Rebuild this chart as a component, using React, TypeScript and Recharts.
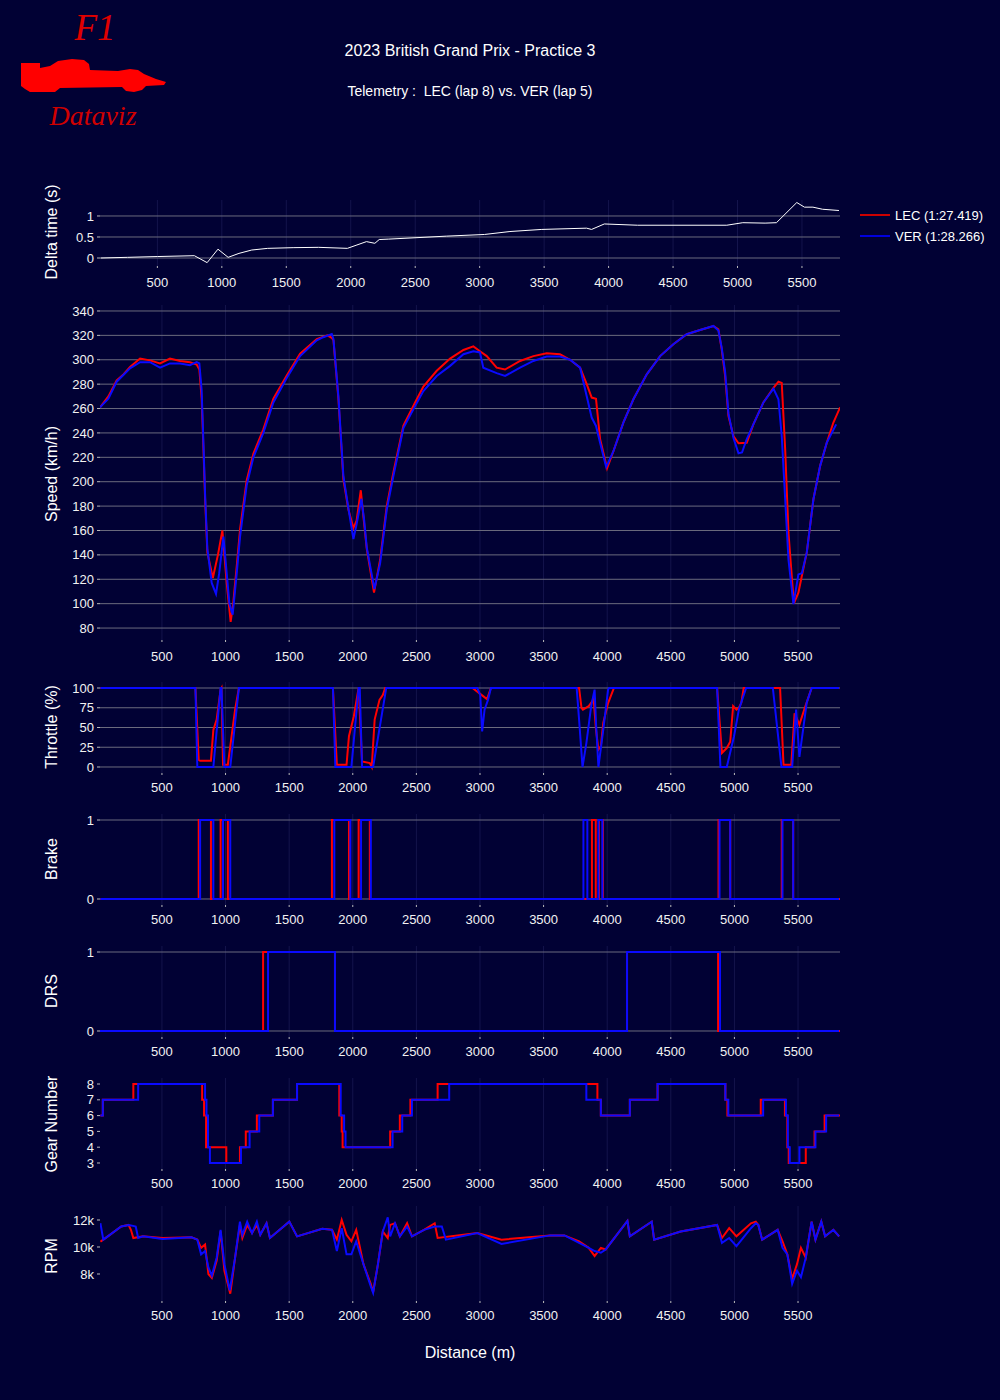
import React from 'react';
import { LineChart, Line, XAxis, YAxis, CartesianGrid } from 'recharts';

const BG = '#010134';
const LEC_COLOR = '#ff0000';
const VER_COLOR = '#0a0aff';
const FONT = '"Liberation Sans", Arial, sans-serif';
const LOGO_FONT = '"Liberation Serif", "DejaVu Serif", serif';

const distanceTicks = [500, 1000, 1500, 2000, 2500, 3000, 3500, 4000, 4500, 5000, 5500];

// [distance (m), value]
const deltaTime: [number, number][] = [
  [60, 0], [268, 0.016], [500, 0.035], [787, 0.055], [886, -0.11], [970, 0.21], [1049, 0.016],
  [1133, 0.11], [1232, 0.19], [1356, 0.23], [1553, 0.246], [1751, 0.254], [1974, 0.23], [2048, 0.31],
  [2122, 0.39], [2187, 0.35], [2221, 0.44], [2295, 0.45], [2741, 0.52], [3037, 0.56], [3235, 0.63],
  [3482, 0.68], [3829, 0.71], [3868, 0.68], [3967, 0.81], [4224, 0.78], [4917, 0.78], [5041, 0.84],
  [5214, 0.83], [5302, 0.84], [5460, 1.32], [5519, 1.21], [5585, 1.21], [5659, 1.16], [5787, 1.13],
];

const lecSpeed: [number, number][] = [
  [13, 261], [79, 270], [144, 283], [197, 288], [249, 294], [328, 301], [406, 299.5], [485, 297],
  [563, 301], [642, 299], [720, 298], [773, 296], [794, 292], [812, 268], [826, 227], [839, 186],
  [857, 142], [900, 121], [940, 140], [975, 160], [1009, 117], [1040, 85], [1060, 100], [1088, 131],
  [1114, 161], [1166, 201], [1219, 223], [1297, 243], [1376, 268], [1481, 287], [1586, 305],
  [1717, 317], [1769, 319], [1800, 320], [1835, 318], [1848, 316], [1887, 268], [1926, 202],
  [1966, 177], [2005, 162], [2030, 168], [2063, 193], [2085, 170], [2110, 145], [2167, 109],
  [2215, 136], [2267, 180], [2320, 208], [2398, 246], [2490, 265], [2555, 278], [2660, 291],
  [2765, 301], [2870, 308], [2948, 311], [3000, 307], [3053, 303], [3131, 293.5], [3197, 292],
  [3315, 299], [3420, 303], [3524, 305.3], [3629, 304.5], [3708, 300], [3787, 293.5], [3839, 280],
  [3878, 269], [3912, 268], [3944, 235], [3999, 211], [4049, 225], [4127, 248.5], [4206, 267.6],
  [4311, 288], [4416, 303], [4520, 312.7], [4625, 320.9], [4730, 324.4], [4835, 327.7], [4874, 325],
  [4900, 308.6], [4927, 286.7], [4953, 254], [4992, 237.5], [5032, 231.5], [5097, 232], [5149, 247],
  [5228, 265], [5307, 277], [5346, 282], [5372, 281], [5399, 226.6], [5425, 158], [5467, 100],
  [5503, 109], [5530, 122.7], [5569, 142], [5621, 185.6], [5674, 213], [5726, 232], [5778, 248.5],
  [5831, 261],
];

const verSpeed: [number, number][] = [
  [13, 261], [79, 268], [144, 282], [197, 287.5], [249, 293], [328, 298], [406, 298], [485, 293.5],
  [563, 297], [642, 297], [720, 295.5], [773, 298], [794, 297], [812, 275], [826, 232], [839, 190],
  [857, 145], [891, 117], [925, 108], [950, 125], [983, 155], [1009, 125], [1030, 100], [1056, 91],
  [1088, 125], [1114, 155], [1166, 197], [1219, 220], [1297, 240], [1376, 265], [1481, 285],
  [1586, 303], [1717, 316], [1769, 318.5], [1835, 321], [1848, 317], [1887, 270], [1926, 205],
  [1966, 178], [2005, 153], [2030, 165], [2068, 186], [2090, 168], [2110, 146], [2170, 112],
  [2215, 133], [2267, 177], [2320, 205], [2398, 244], [2490, 262], [2555, 274.4], [2660, 286.7],
  [2765, 295], [2870, 304.5], [2948, 307], [3000, 306], [3026, 293.5], [3131, 289], [3197, 286.7],
  [3315, 293.5], [3420, 299], [3524, 302.6], [3629, 302.6], [3708, 300], [3787, 293.5], [3839, 270],
  [3878, 252.6], [3912, 245.7], [3944, 232], [3992, 212], [4049, 225], [4127, 248.5], [4206, 267.6],
  [4311, 288], [4416, 303], [4520, 312.7], [4625, 320.9], [4730, 324.4], [4835, 327.7], [4874, 324],
  [4900, 310], [4927, 290], [4953, 256], [4992, 236], [5032, 223.3], [5060, 224], [5097, 235],
  [5149, 247], [5228, 265], [5307, 276.3], [5346, 267.6], [5372, 237.5], [5399, 185.6], [5425, 136],
  [5464, 99.6], [5503, 124], [5530, 125], [5569, 142], [5621, 185.6], [5674, 213], [5726, 232],
  [5800, 247],
];

const lecThrottle: [number, number][] = [
  [16, 100], [763, 100], [789, 9], [800, 8], [885, 8], [904, 47], [930, 60], [961, 98], [968, 100],
  [980, 3], [1018, 3], [1037, 26], [1075, 72.6], [1105, 100], [1844, 100], [1875, 3], [1951, 3],
  [1970, 39], [2008, 64], [2046, 100], [2073, 7], [2134, 5], [2149, 0], [2172, 60], [2210, 85],
  [2236, 91], [2255, 100], [2941, 100], [3009, 91.6], [3055, 86], [3086, 100], [3779, 100],
  [3798, 75], [3809, 72.6], [3855, 77], [3882, 83], [3893, 87], [3912, 47], [3931, 22], [3950, 26],
  [3969, 55.7], [4007, 81], [4053, 100], [4864, 100], [4902, 17.7], [4940, 24], [4967, 32],
  [4990, 77], [5016, 72.6], [5035, 75], [5054, 81], [5073, 100], [5359, 100], [5386, 3], [5447, 3],
  [5473, 68], [5511, 53.6], [5549, 72.6], [5607, 100], [5823, 100],
];

const verThrottle: [number, number][] = [
  [16, 100], [763, 100], [778, 0], [904, 0], [961, 100], [968, 100], [991, 0], [1037, 0],
  [1105, 100], [1844, 100], [1863, 0], [1989, 0], [2046, 100], [2055, 100], [2073, 0], [2160, 0],
  [2263, 100], [2979, 100], [3002, 91], [3017, 45], [3036, 72.6], [3063, 85], [3086, 100],
  [3760, 100], [3779, 60], [3806, 0], [3836, 30], [3874, 77], [3901, 98], [3912, 55.7], [3931, 0],
  [3969, 47], [4007, 98], [4015, 100], [4864, 100], [4890, 0], [4940, 0], [4997, 39], [5035, 72.6],
  [5092, 100], [5302, 100], [5370, 0], [5454, 0], [5485, 72.6], [5511, 12.7], [5568, 81],
  [5607, 100], [5823, 100],
];

const lecBrake: [number, number][] = [
  [16, 0], [789, 1], [885, 0], [961, 1], [1018, 0], [1836, 1], [1970, 0], [2046, 1], [2134, 0],
  [3880, 1], [3910, 0], [3935, 1], [3966, 0], [4875, 1], [4967, 0], [5372, 1], [5462, 0], [5830, 0],
];

const verBrake: [number, number][] = [
  [16, 0], [800, 1], [904, 0], [980, 1], [1037, 0], [1855, 1], [1981, 0], [2065, 1], [2142, 0],
  [3813, 1], [3844, 0], [3931, 1], [3962, 0], [4883, 1], [4967, 0], [5378, 1], [5462, 0], [5823, 0],
];

const lecDrs: [number, number][] = [[10, 0], [1295, 1], [1860, 0], [4156, 1], [4872, 0], [5830, 0]];
const verDrs: [number, number][] = [[10, 0], [1334, 1], [1860, 0], [4156, 1], [4887, 0], [5823, 0]];

const lecGear: [number, number][] = [
  [16, 6], [35, 7], [275, 8], [816, 7], [831, 6], [847, 4], [1006, 3], [1113, 4], [1159, 5],
  [1246, 6], [1372, 7], [1562, 8], [1894, 6], [1913, 5], [1920, 4], [2294, 5], [2370, 6], [2453, 7],
  [2667, 8], [3923, 7], [3950, 6], [4178, 7], [4396, 8], [4929, 7], [4945, 6], [5207, 7], [5397, 6],
  [5416, 4], [5427, 3], [5561, 4], [5630, 5], [5709, 6], [5830, 6],
];

const verGear: [number, number][] = [
  [16, 6], [35, 7], [313, 8], [839, 7], [850, 6], [862, 4], [877, 3], [1121, 4], [1189, 5],
  [1265, 6], [1372, 7], [1562, 8], [1905, 6], [1932, 5], [1943, 4], [2313, 5], [2389, 6], [2465, 7],
  [2758, 8], [3836, 7], [3950, 6], [4178, 7], [4396, 8], [4929, 7], [4952, 6], [5226, 7], [5405, 6],
  [5420, 4], [5435, 3], [5511, 4], [5637, 5], [5721, 6], [5823, 6],
];

const lecRpm: [number, number][] = [
  [16, 10400], [39, 10545], [85, 10860], [180, 11515], [237, 11636], [256, 11273], [275, 10667],
  [351, 10788], [504, 10667], [732, 10715], [778, 10545], [808, 9939], [839, 10182], [865, 8000],
  [892, 7709], [930, 8970], [961, 11152], [991, 8242], [1037, 6545], [1075, 9212], [1113, 11636],
  [1132, 10667], [1170, 11636], [1208, 11030], [1246, 11636], [1273, 10909], [1322, 11758],
  [1349, 10667], [1501, 11879], [1562, 10788], [1760, 11345], [1837, 11273], [1875, 10545],
  [1913, 12000], [1951, 10909], [1989, 10424], [2027, 11273], [2084, 8727], [2141, 7273],
  [2160, 6667], [2198, 8727], [2236, 11152], [2275, 10667], [2294, 11636], [2332, 11758],
  [2370, 10788], [2427, 11758], [2465, 10788], [2560, 11273], [2644, 11758], [2667, 10667],
  [2979, 11030], [3169, 10545], [3550, 10860], [3664, 10860], [3779, 10424], [3855, 9939],
  [3901, 9333], [3950, 9939], [3988, 9818], [4159, 11927], [4178, 10788], [4350, 11879],
  [4369, 10545], [4578, 11152], [4864, 11636], [4902, 10667], [4959, 11394], [5016, 10788],
  [5130, 11758], [5168, 11879], [5188, 11636], [5218, 10545], [5340, 11273], [5378, 10424],
  [5416, 9455], [5454, 7636], [5492, 8727], [5523, 9939], [5561, 9212], [5607, 11879],
  [5637, 10545], [5683, 11879], [5713, 10788], [5778, 11273], [5823, 10788],
];

const verRpm: [number, number][] = [
  [16, 11758], [39, 10545], [85, 10860], [180, 11515], [237, 11636], [256, 11600], [294, 11515],
  [313, 10667], [351, 10788], [504, 10600], [732, 10715], [778, 10545], [808, 9455], [839, 9697],
  [865, 8485], [892, 7879], [930, 9212], [961, 11273], [991, 8727], [1033, 6788], [1075, 9212],
  [1113, 11879], [1132, 10900], [1170, 11879], [1208, 11030], [1246, 11879], [1273, 10909],
  [1322, 11758], [1349, 10667], [1501, 11879], [1562, 10788], [1760, 11345], [1837, 11273],
  [1875, 9697], [1913, 11394], [1951, 9455], [1989, 9455], [2027, 10424], [2084, 8727],
  [2141, 7100], [2160, 6600], [2198, 8727], [2236, 11152], [2275, 12200], [2294, 10788],
  [2332, 11758], [2370, 10788], [2427, 11515], [2465, 10788], [2560, 11273], [2644, 11515],
  [2700, 11515], [2732, 10545], [2979, 11030], [3169, 10230], [3550, 10860], [3664, 10860],
  [3779, 10303], [3855, 9939], [3901, 9697], [3950, 9576], [3988, 9818], [4159, 11927],
  [4178, 10788], [4350, 11879], [4369, 10545], [4578, 11152], [4864, 11636], [4902, 10303],
  [4959, 10667], [5016, 10061], [5130, 11394], [5168, 11758], [5188, 11636], [5218, 10545],
  [5340, 11273], [5378, 9939], [5416, 9455], [5454, 7273], [5492, 8242], [5523, 7758],
  [5561, 9212], [5607, 11879], [5637, 10545], [5683, 11879], [5713, 10788], [5778, 11273],
  [5823, 10788],
];

const toRows = (pts: [number, number][]) => pts.map(([d, v]) => ({ d, v }));

interface Series {
  data: [number, number][];
  color: string;
  width?: number;
  step?: boolean;
}

interface PanelProps {
  top: number;
  bottom: number;
  xDomain: [number, number];
  yDomain: [number, number];
  yTicks: number[];
  hGrid?: boolean;
  labelGap?: number;
  yFormat?: (v: number) => string;
  series: Series[];
}

function Panel({ top, bottom, xDomain, yDomain, yTicks, hGrid = true, labelGap = 8, yFormat, series }: PanelProps) {
  const plotH = bottom - top;
  const axisH = 40;
  return (
    <div style={{ position: 'absolute', left: 0, top }}>
      <LineChart width={1000} height={plotH + axisH} margin={{ top: 0, right: 160, bottom: 0, left: 40 }}>
        <CartesianGrid horizontal={false} vertical syncWithTicks stroke="#14144c" strokeWidth={1} />
        {hGrid && <CartesianGrid horizontal vertical={false} syncWithTicks stroke="#6b6b7e" strokeWidth={1} />}
        <XAxis
          type="number"
          dataKey="d"
          domain={xDomain}
          ticks={distanceTicks}
          interval={0}
          allowDataOverflow
          height={axisH}
          axisLine={false}
          tickLine={{ stroke: '#bbbbbb' }}
          tickSize={2}
          tickMargin={labelGap}
          tick={{ fill: '#f2f2f2', fontSize: 13, fontFamily: FONT }}
        />
        <YAxis
          type="number"
          domain={yDomain}
          ticks={yTicks}
          interval={0}
          allowDataOverflow
          width={60}
          axisLine={false}
          tickLine={{ stroke: '#bbbbbb' }}
          tickSize={3}
          tickMargin={3}
          tickFormatter={yFormat}
          tick={{ fill: '#f2f2f2', fontSize: 13, fontFamily: FONT }}
        />
        {series.map((s, i) => (
          <Line
            key={i}
            data={toRows(s.data)}
            dataKey="v"
            type={s.step ? 'stepAfter' : 'linear'}
            stroke={s.color}
            strokeWidth={s.width ?? 2}
            dot={false}
            isAnimationActive={false}
          />
        ))}
      </LineChart>
    </div>
  );
}

function AxisTitle({ x, y, text }: { x: number; y: number; text: string }) {
  return (
    <text x={x} y={y} transform={`rotate(-90, ${x}, ${y})`} textAnchor="middle" dominantBaseline="middle"
      fill="#ffffff" fontSize={16} fontFamily={FONT}>
      {text}
    </text>
  );
}

const X_DOMAIN: [number, number] = [13, 5830];

export default function App() {
  return (
    <div style={{ position: 'absolute', left: 0, top: 0, width: 1000, height: 1400, background: BG, overflow: 'hidden' }}>
      <svg width={1000} height={1400} style={{ position: 'absolute', left: 0, top: 0 }}>
        {/* logo */}
        <text x={95} y={40} textAnchor="middle" fill="#e00000" fontSize={37} fontStyle="italic" fontFamily={LOGO_FONT}>F1</text>
        <path
          d="M21,63 L40,63 L40,68 L50,66 L58,61 L72,59 L84,60 L89,64 L90,70 L118,71 L130,69 L138,70 L144,74 L156,79 L166,82 L164,85 L146,86 L142,90 L134,92 L126,91 L122,87 L60,88 L55,92 L30,92 L25,89 L21,86 Z"
          fill="#ff0000"
        />
        <text x={93} y={125} textAnchor="middle" fill="#d00000" fontSize={28} fontStyle="italic" fontFamily={LOGO_FONT}>Dataviz</text>

        {/* titles */}
        <text x={470} y={56} textAnchor="middle" fill="#ffffff" fontSize={16} fontFamily={FONT}>
          2023 British Grand Prix - Practice 3
        </text>
        <text x={470} y={96} textAnchor="middle" fill="#ffffff" fontSize={14} fontFamily={FONT} xmlSpace="preserve">
          Telemetry :  LEC (lap 8) vs. VER (lap 5)
        </text>

        {/* legend */}
        <line x1={860} x2={890} y1={215} y2={215} stroke="#cc0000" strokeWidth={2} />
        <text x={895} y={220} fill="#ffffff" fontSize={13} fontFamily={FONT}>LEC (1:27.419)</text>
        <line x1={860} x2={890} y1={236} y2={236} stroke="#0000dd" strokeWidth={2} />
        <text x={895} y={241} fill="#ffffff" fontSize={13} fontFamily={FONT}>VER (1:28.266)</text>

        {/* axis titles */}
        <AxisTitle x={53} y={232} text="Delta time (s)" />
        <AxisTitle x={53} y={474} text="Speed (km/h)" />
        <AxisTitle x={53} y={727} text="Throttle (%)" />
        <AxisTitle x={53} y={859} text="Brake" />
        <AxisTitle x={53} y={991} text="DRS" />
        <AxisTitle x={53} y={1124} text="Gear Number" />
        <AxisTitle x={53} y={1256} text="RPM" />
        <text x={470} y={1358} textAnchor="middle" fill="#ffffff" fontSize={16} fontFamily={FONT}>Distance (m)</text>
      </svg>

      <Panel top={200} bottom={266} xDomain={[55, 5795]} yDomain={[-0.19, 1.38]} yTicks={[0, 0.5, 1]} labelGap={10}
        series={[{ data: deltaTime, color: '#ffffff', width: 1 }]} />
      <Panel top={305} bottom={640} xDomain={X_DOMAIN} yDomain={[70.2, 344.9]} labelGap={10}
        yTicks={[80, 100, 120, 140, 160, 180, 200, 220, 240, 260, 280, 300, 320, 340]}
        series={[{ data: lecSpeed, color: LEC_COLOR }, { data: verSpeed, color: VER_COLOR }]} />
      <Panel top={682} bottom={773} xDomain={X_DOMAIN} yDomain={[-7.6, 107.6]} yTicks={[0, 25, 50, 75, 100]}
        series={[{ data: lecThrottle, color: LEC_COLOR }, { data: verThrottle, color: VER_COLOR }]} />
      <Panel top={814} bottom={905} xDomain={X_DOMAIN} yDomain={[-0.076, 1.076]} yTicks={[0, 1]}
        series={[{ data: lecBrake, color: LEC_COLOR, step: true }, { data: verBrake, color: VER_COLOR, step: true }]} />
      <Panel top={946} bottom={1037} xDomain={X_DOMAIN} yDomain={[-0.076, 1.076]} yTicks={[0, 1]}
        series={[{ data: lecDrs, color: LEC_COLOR, step: true }, { data: verDrs, color: VER_COLOR, step: true }]} />
      <Panel top={1078} bottom={1169} xDomain={X_DOMAIN} yDomain={[2.62, 8.38]} yTicks={[3, 4, 5, 6, 7, 8]} hGrid={false}
        series={[{ data: lecGear, color: LEC_COLOR, step: true }, { data: verGear, color: VER_COLOR, step: true }]} />
      <Panel top={1206} bottom={1301} xDomain={X_DOMAIN} yDomain={[6000, 13037]} yTicks={[8000, 10000, 12000]} hGrid={false}
        yFormat={(v) => `${v / 1000}k`}
        series={[{ data: lecRpm, color: LEC_COLOR }, { data: verRpm, color: VER_COLOR }]} />
    </div>
  );
}
